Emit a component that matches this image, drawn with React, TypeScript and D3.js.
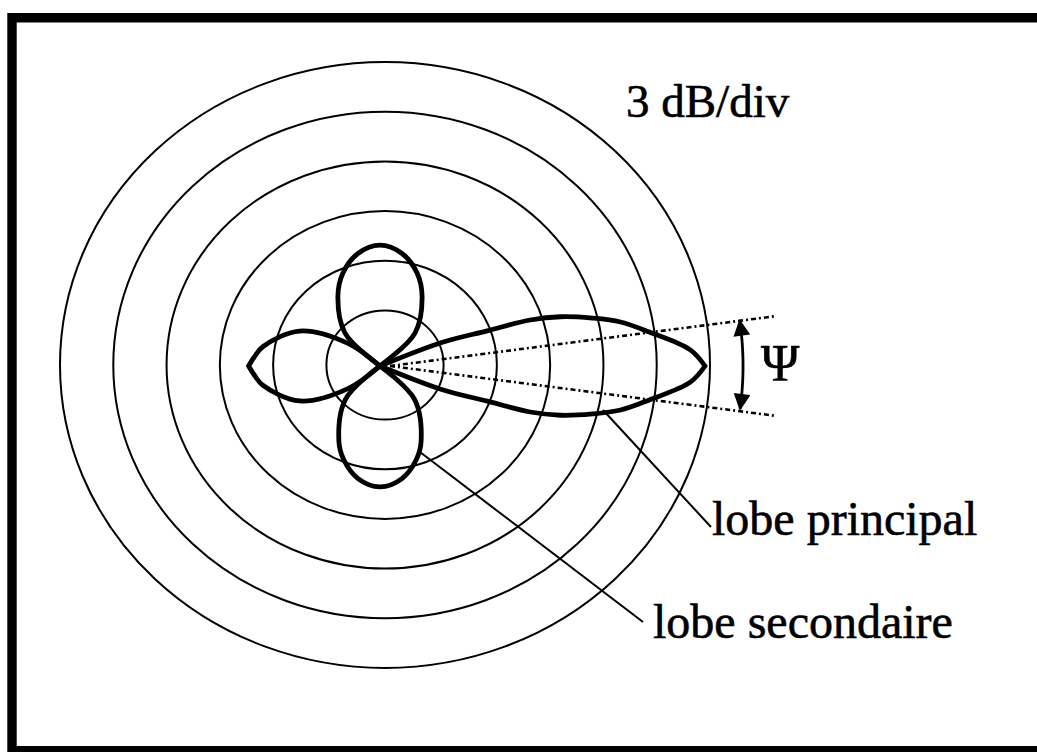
import React from 'react';
import * as d3 from 'd3';

// Grid: one ring every 3 dB, outer ring = 0 dB
const gridLevelsDb = [0, -3, -6, -9, -12, -15];
const floorDb = -18.3;

// Main lobe, one half: angle from boresight (deg) and relative gain (dB)
const mainLobeAngles = [0, 3.2, 7.7, 11.1, 13.6, 16.3, 18.2, 19.4, 22.2, 24];
const mainLobeDb = [0, -0.8, -3, -4.5, -6, -7.7, -9.4, -11.9, -14.5, -18.3];

// Secondary lobes, one half each: offset from the lobe axis (deg) and gain (dB)
const upperLobeOffsets = [0, 10.5, 20.3, 29.6, 44.7, 47];
const upperLobeDb = [-11.0, -11.4, -12.3, -13.5, -15.5, -18.3];
const lowerLobeOffsets = [0, 10.5, 20, 27, 44, 47];
const lowerLobeDb = [-11.0, -11.4, -12.3, -13.2, -15.5, -18.3];
const leftLobeOffsets = [0, 4.4, 10, 25, 37, 42];
const leftLobeDb = [-10.9, -11.2, -11.6, -13.3, -16.0, -18.3];

// Lobe axis directions (deg, counter-clockwise from boresight)
const upperLobeAxis = 90;
const leftLobeAxis = 180;
const lowerLobeAxis = 270;

const scaleLabel = '3 dB/div';
const beamLabel = 'Ψ';
const mainLabel = 'lobe principal';
const sideLabel = 'lobe secondaire';

const W = 1037;
const H = 752;
const gridCx = 385;
const gridCy = 365;
const originX = 380;
const originY = 366;
const outerR = 325;
const aspect = 0.932;
const font = "'Liberation Serif', 'Times New Roman', serif";

const r = d3.scaleLinear().domain([floorDb, 0]).range([0, outerR]);

function toXY(angleDeg: number, radius: number): [number, number] {
  const a = (angleDeg * Math.PI) / 180;
  return [originX + radius * Math.cos(a), originY - radius * Math.sin(a) * aspect];
}

const curve = d3.line<[number, number]>().curve(d3.curveCatmullRom.alpha(0.5));

// Petal drawn as two halves meeting at a pointed tip
function pointedLobe(axis: number, offsets: number[], db: number[]): string {
  const upper = offsets.map((o, i) => toXY(axis + o, r(db[i]))).reverse();
  const lower = offsets.map((o, i) => toXY(axis - o, r(db[i])));
  return (curve(upper) || '') + (curve(lower) || '');
}

// Petal drawn as one smooth closed curve through its tip
function roundLobe(axis: number, offsets: number[], db: number[]): string {
  const a = offsets.map((o, i) => toXY(axis + o, r(db[i]))).reverse();
  const b = offsets.slice(1).map((o, i) => toXY(axis - o, r(db[i + 1])));
  return curve([...a, ...b]) || '';
}

export default function App() {
  const halfPower = mainLobeAngles[mainLobeDb.indexOf(-3)];
  const guideLen = r(0) * 1.23;
  const arcR = r(0) * 1.117;

  const mainPath = pointedLobe(0, mainLobeAngles, mainLobeDb);
  const leftPath = pointedLobe(leftLobeAxis, leftLobeOffsets, leftLobeDb);
  const upperPath = roundLobe(upperLobeAxis, upperLobeOffsets, upperLobeDb);
  const lowerPath = roundLobe(lowerLobeAxis, lowerLobeOffsets, lowerLobeDb);

  const arcPts = d3.range(halfPower, -halfPower - 0.01, -0.5).map((a) => toXY(a, arcR));
  const arcPath = d3.line()(arcPts as [number, number][]) || '';

  const gUp = toXY(halfPower, guideLen);
  const gDn = toXY(-halfPower, guideLen);

  const textStyle = { fontFamily: font, fill: '#000', stroke: '#000', strokeWidth: 0.6 };

  return (
    <svg
      width={W}
      height={H}
      viewBox={`0 0 ${W} ${H}`}
      style={{ position: 'absolute', left: 0, top: 0, display: 'block', background: '#fff', overflow: 'hidden' }}
    >
      <defs>
        <marker
          id="head"
          viewBox="0 0 10 10"
          refX="9"
          refY="5"
          markerWidth="7"
          markerHeight="6"
          orient="auto-start-reverse"
        >
          <path d="M0,0 L10,5 L0,10 z" fill="#000" />
        </marker>
      </defs>

      <rect x={0} y={0} width={W} height={H} fill="#fff" />
      {/* frame: top, left and bottom sides */}
      <path
        d={`M${W + 10},17.8 H12 V750.7 H${W + 10}`}
        fill="none"
        stroke="#000"
        strokeWidth={9.4}
        strokeLinejoin="miter"
      />

      {/* 3 dB rings */}
      {gridLevelsDb.map((d) => (
        <ellipse
          key={d}
          cx={gridCx}
          cy={gridCy}
          rx={r(d)}
          ry={r(d) * aspect}
          fill="none"
          stroke="#000"
          strokeWidth={2}
        />
      ))}

      {/* half-power guides */}
      {[gUp, gDn].map((p, i) => (
        <line
          key={i}
          x1={originX + 10}
          y1={originY}
          x2={p[0]}
          y2={p[1]}
          stroke="#000"
          strokeWidth={2.6}
          strokeDasharray="5 3 2 3"
        />
      ))}

      {/* radiation pattern */}
      {[mainPath, leftPath, upperPath, lowerPath].map((d, i) => (
        <path
          key={i}
          d={d}
          fill="none"
          stroke="#000"
          strokeWidth={4.8}
          strokeLinejoin="round"
          strokeLinecap="round"
        />
      ))}

      {/* beamwidth arrow */}
      <path
        d={arcPath}
        fill="none"
        stroke="#000"
        strokeWidth={2.8}
        markerStart="url(#head)"
        markerEnd="url(#head)"
      />
      <text x={761} y={381} fontSize={52} {...textStyle}>
        {beamLabel}
      </text>

      {/* leaders */}
      <line x1={603} y1={410} x2={711} y2={527} stroke="#000" strokeWidth={2} />
      <line x1={420} y1={452} x2={643} y2={622} stroke="#000" strokeWidth={2} />

      <text x={626} y={117} fontSize={47} {...textStyle}>
        {scaleLabel}
      </text>
      <text x={712} y={535} fontSize={48} {...textStyle}>
        {mainLabel}
      </text>
      <text x={653} y={638} fontSize={48} {...textStyle}>
        {sideLabel}
      </text>
    </svg>
  );
}
